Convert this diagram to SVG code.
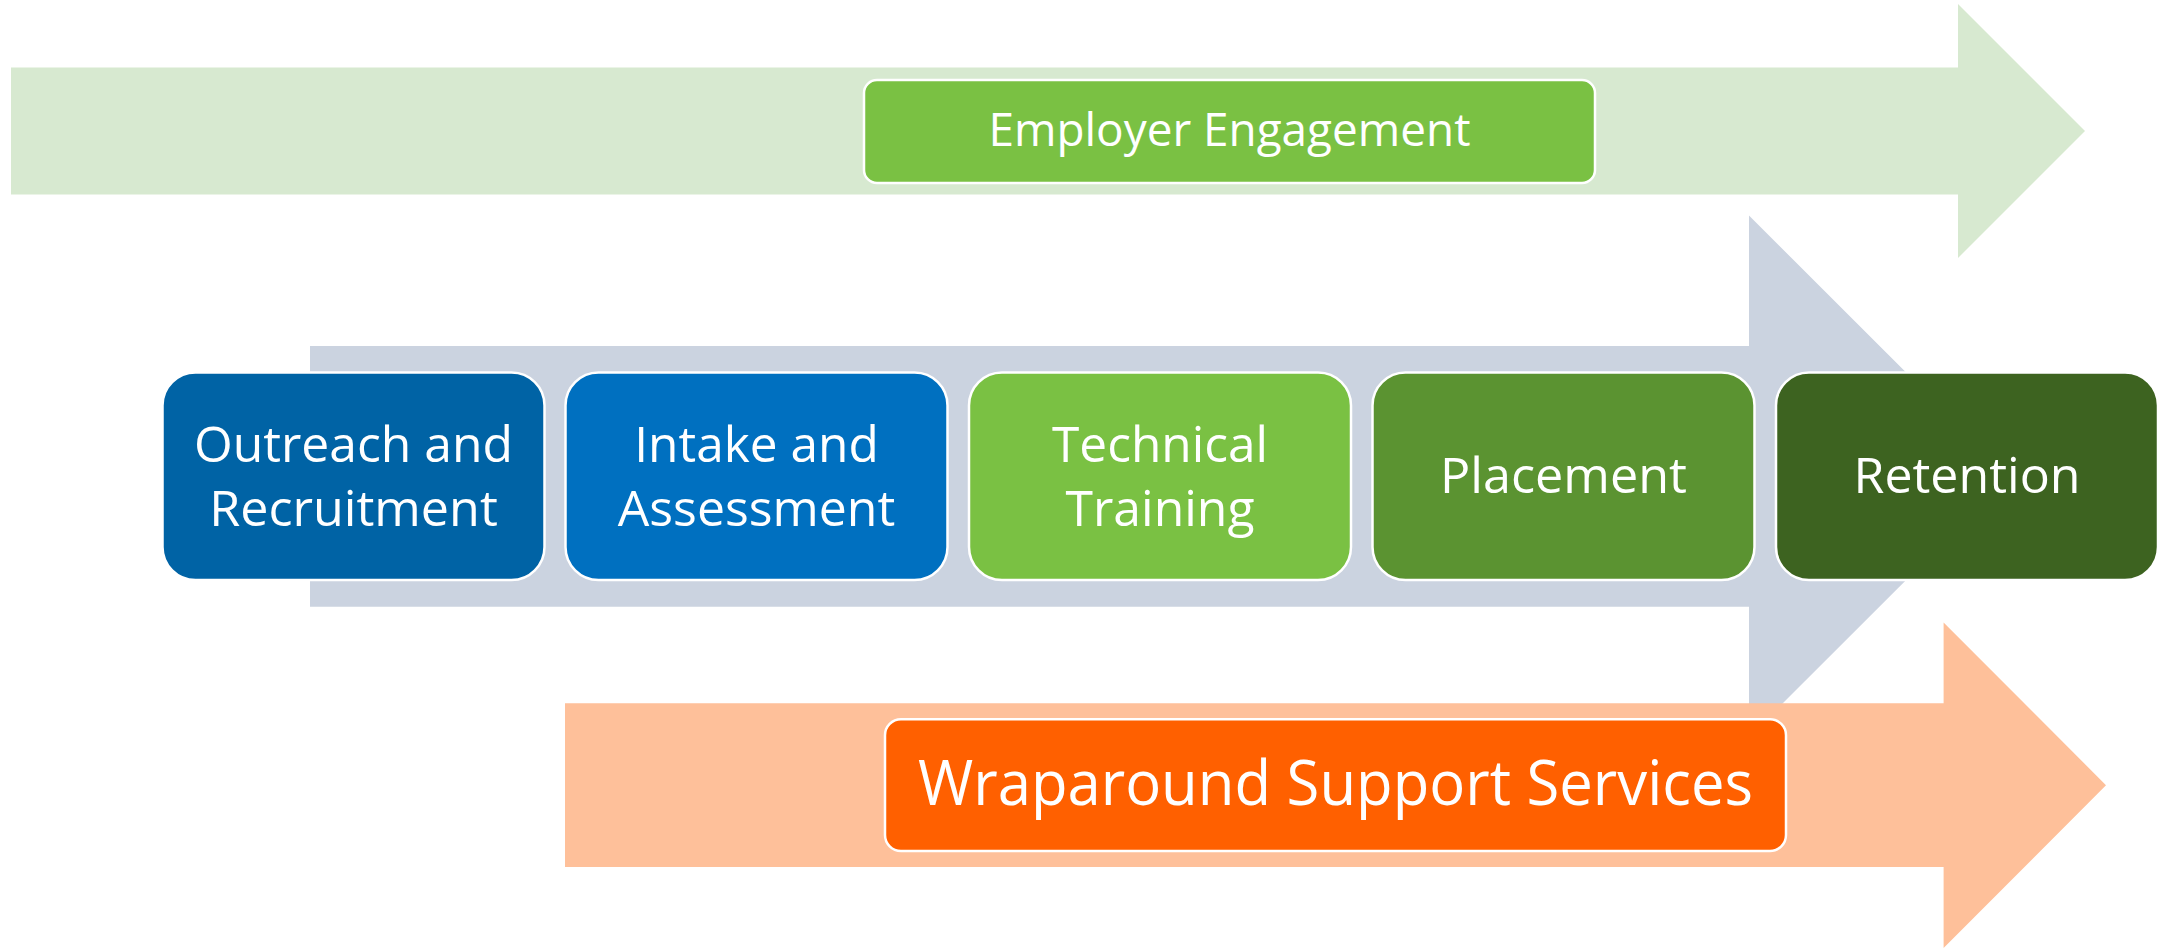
<svg xmlns="http://www.w3.org/2000/svg" width="2159" height="948" viewBox="0 0 2159 948">
<style>
.box{stroke:#ffffff;stroke-width:2.5}
.t{font-family:"Open Sans","Noto Sans","DejaVu Sans",sans-serif;fill:#ffffff;text-anchor:middle}
.s{font-size:50px}
</style>
<rect width="2159" height="948" fill="#ffffff"/>
<g id="arrows">
<polygon id="arrow-employer" fill="#D7E9D0" points="11,67.5 1958,67.5 1958,4 2085,131 1958,258 1958,194.5 11,194.5"/>
<polygon id="arrow-process" fill="#CBD3E0" points="310,346 1749,346 1749,215.5 2010,476.3 1749,737 1749,606.7 310,606.7"/>
<polygon id="arrow-support" fill="#FEC09A" points="565,703.3 1943.6,703.3 1943.6,622.4 2106,785.2 1943.6,948 1943.6,867 565,867"/>
</g>
<g id="employer">
<rect class="box" x="864" y="80" width="731" height="103" rx="13" fill="#7AC143"/>
<text class="t" x="1229.5" y="145.7" font-size="45" textLength="482" lengthAdjust="spacingAndGlyphs">Employer Engagement</text>
</g>
<g id="support">
<rect class="box" x="885" y="719.3" width="901" height="131.7" rx="16" fill="#FF6000"/>
<text class="t" x="1335.5" y="805" font-size="62" textLength="835" lengthAdjust="spacingAndGlyphs">Wraparound Support Services</text>
</g>
<g id="outreach">
<rect class="box" x="162.5" y="372.5" width="382" height="207.5" rx="33" fill="#0063A5"/>
<text class="t s" x="353.5" y="461.7" textLength="319" lengthAdjust="spacingAndGlyphs">Outreach and</text>
<text class="t s" x="353.5" y="526" textLength="288.6" lengthAdjust="spacingAndGlyphs">Recruitment</text>
</g>
<g id="intake">
<rect class="box" x="565.5" y="372.5" width="382" height="207.5" rx="33" fill="#0070C0"/>
<text class="t s" x="756.5" y="461.7" textLength="244.5" lengthAdjust="spacingAndGlyphs">Intake and</text>
<text class="t s" x="756.5" y="526" textLength="277.5" lengthAdjust="spacingAndGlyphs">Assessment</text>
</g>
<g id="technical">
<rect class="box" x="969" y="372.5" width="382" height="207.5" rx="33" fill="#7AC143"/>
<text class="t s" x="1160" y="461.7" textLength="216" lengthAdjust="spacingAndGlyphs">Technical</text>
<text class="t s" x="1160" y="526" textLength="189" lengthAdjust="spacingAndGlyphs">Training</text>
</g>
<g id="placement">
<rect class="box" x="1372.5" y="372.5" width="382" height="207.5" rx="33" fill="#5B9331"/>
<text class="t s" x="1563.5" y="492.7" textLength="247" lengthAdjust="spacingAndGlyphs">Placement</text>
</g>
<g id="retention">
<rect class="box" x="1776" y="372.5" width="382" height="207.5" rx="33" fill="#3D6320"/>
<text class="t s" x="1967" y="492.7" textLength="227" lengthAdjust="spacingAndGlyphs">Retention</text>
</g>
</svg>
